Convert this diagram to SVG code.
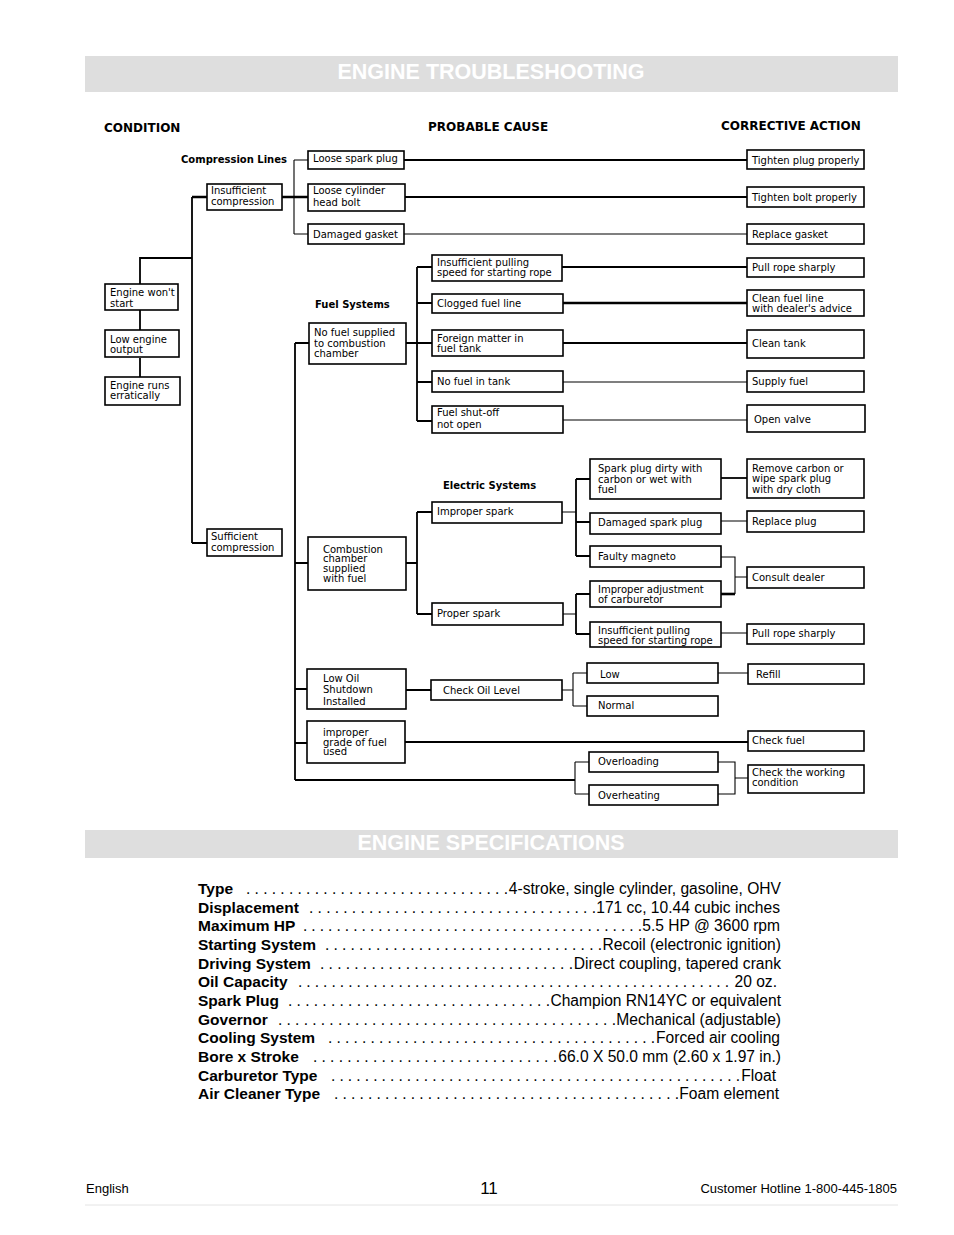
<svg xmlns="http://www.w3.org/2000/svg" width="954" height="1235" viewBox="0 0 954 1235">
<style>
.b{fill:#fff;stroke:#000;stroke-width:1.6}
.t{font-family:"DejaVu Sans",sans-serif;font-size:10px;fill:#000}
.h{font-family:"DejaVu Sans",sans-serif;font-size:12px;font-weight:bold;fill:#000}
.lb{font-family:"DejaVu Sans",sans-serif;font-size:10px;font-weight:bold;fill:#000}
.c1{stroke:#000;stroke-width:1.1;fill:none}
.c2{stroke:#000;stroke-width:1.8;fill:none}
.c3{stroke:#000;stroke-width:2.6;fill:none}
.bar{fill:#dedede}
.bt{font-family:"Liberation Sans",Arial,sans-serif;font-size:21.5px;font-weight:bold;fill:#fff}
.sl{font-family:"Liberation Sans",Arial,sans-serif;font-size:15.5px;font-weight:bold;fill:#000}
.sv{font-family:"Liberation Sans",Arial,sans-serif;font-size:15.6px;fill:#000}
.ft{font-family:"Liberation Sans",Arial,sans-serif;font-size:13px;fill:#000}
</style>
<rect width="954" height="1235" fill="#fff"/>

<g id="header-troubleshooting">
<rect class="bar" x="85" y="56" width="813" height="36"/>
<text class="bt" x="491" y="79" text-anchor="middle">ENGINE TROUBLESHOOTING</text>
</g>

<g id="column-headers">
<text class="h" x="104" y="132">CONDITION</text>
<text class="h" x="428" y="131">PROBABLE CAUSE</text>
<text class="h" x="721" y="130">CORRECTIVE ACTION</text>
<text class="lb" x="181" y="163">Compression Lines</text>
<text class="lb" x="315" y="308">Fuel Systems</text>
<text class="lb" x="443" y="489">Electric Systems</text>
</g>

<g id="connectors">
<path class="c2" d="M140 284V258H192M140 310V330M140 358V377M192 197V543M192 543H207"/>
<path class="c3" d="M192 197H207M282 197H308"/>
<path class="c1" d="M294 160V234M294 160H308M294 234H308"/>
<path class="c2" d="M404 160H747M405 197H747"/>
<path class="c1" d="M404 234H747"/>
<path class="c2" d="M295 343V780M295 343H309M406 343H417M417 267V421M417 267H432M417 303H432M417 343H432M417 382H432M417 421H432"/>
<path class="c2" d="M562 267H747M563 343H747"/>
<path class="c3" d="M562 303H747"/>
<path class="c1" d="M563 382H747M563 420H747"/>
<path class="c2" d="M295 563H308M406 563H417M417 512V614M417 512H432M417 614H432"/>
<path class="c1" d="M562 512H576M563 614H576"/>
<path class="c2" d="M576 479V556M576 479H590M576 522H590M576 556H590M576 594V634M576 594H590M576 634H590"/>
<path class="c2" d="M721 478H747"/>
<path class="c1" d="M721 521H747M721 557H735V594M735 577H747M721 633H747"/>
<path class="c3" d="M721 594H735"/>
<path class="c2" d="M295 689H307M406 690H431"/>
<path class="c1" d="M562 690H573M573 673V706M573 673H587M573 706H587M718 673H748"/>
<path class="c2" d="M295 743H307M405 742H748M295 780H575"/>
<path class="c1" d="M575 762V794M575 762H589M575 794H589M718 762H735V794H718M735 778H748"/>
</g>

<g id="n-engine-wont-start"><rect class="b" x="105" y="284" width="73" height="26"/><text class="t" x="110" y="296">Engine won't</text><text class="t" x="110" y="307">start</text></g>
<g id="n-low-engine-output"><rect class="b" x="105" y="330" width="74" height="27"/><text class="t" x="110" y="342.5">Low engine</text><text class="t" x="110" y="352.5">output</text></g>
<g id="n-engine-runs-erratically"><rect class="b" x="105" y="377" width="75" height="28"/><text class="t" x="110" y="388.5">Engine runs</text><text class="t" x="110" y="398.5">erratically</text></g>

<g id="n-insufficient-compression"><rect class="b" x="207" y="184" width="75" height="26"/><text class="t" x="211" y="194">Insufficient</text><text class="t" x="211" y="205">compression</text></g>
<g id="n-sufficient-compression"><rect class="b" x="207" y="529" width="75" height="27"/><text class="t" x="211" y="539.5">Sufficient</text><text class="t" x="211" y="550.5">compression</text></g>

<g id="n-loose-spark-plug"><rect class="b" x="308" y="151" width="96" height="18"/><text class="t" x="313" y="162">Loose spark plug</text></g>
<g id="n-loose-cylinder"><rect class="b" x="308" y="184" width="97" height="27"/><text class="t" x="313" y="194">Loose cylinder</text><text class="t" x="313" y="205.5">head bolt</text></g>
<g id="n-damaged-gasket"><rect class="b" x="308" y="224" width="96" height="20"/><text class="t" x="313" y="237.5">Damaged gasket</text></g>

<g id="n-no-fuel-supplied"><rect class="b" x="309" y="323" width="97" height="41"/><text class="t" x="314" y="336">No fuel supplied</text><text class="t" x="314" y="346.5">to combustion</text><text class="t" x="314" y="357">chamber</text></g>
<g id="n-combustion-supplied"><rect class="b" x="308" y="537" width="98" height="53"/><text class="t" x="323" y="552.5">Combustion</text><text class="t" x="323" y="562">chamber</text><text class="t" x="323" y="572">supplied</text><text class="t" x="323" y="582">with fuel</text></g>
<g id="n-low-oil-shutdown"><rect class="b" x="307" y="669" width="99" height="40"/><text class="t" x="323" y="681.5">Low Oil</text><text class="t" x="323" y="693">Shutdown</text><text class="t" x="323" y="704.5">Installed</text></g>
<g id="n-improper-grade"><rect class="b" x="307" y="721" width="98" height="42"/><text class="t" x="323" y="736">improper</text><text class="t" x="323" y="745.5">grade of fuel</text><text class="t" x="323" y="755">used</text></g>

<g id="n-insufficient-pulling-1"><rect class="b" x="432" y="255" width="130" height="26"/><text class="t" x="437" y="266">Insufficient pulling</text><text class="t" x="437" y="276">speed for starting rope</text></g>
<g id="n-clogged-fuel-line"><rect class="b" x="432" y="294" width="131" height="19"/><text class="t" x="437" y="306.5">Clogged fuel line</text></g>
<g id="n-foreign-matter"><rect class="b" x="432" y="330" width="131" height="26"/><text class="t" x="437" y="342">Foreign matter in</text><text class="t" x="437" y="352">fuel tank</text></g>
<g id="n-no-fuel-in-tank"><rect class="b" x="432" y="371" width="131" height="21"/><text class="t" x="437" y="385">No fuel in tank</text></g>
<g id="n-fuel-shutoff"><rect class="b" x="432" y="406" width="131" height="27"/><text class="t" x="437" y="416">Fuel shut-off</text><text class="t" x="437" y="428">not open</text></g>
<g id="n-improper-spark"><rect class="b" x="432" y="502" width="130" height="21"/><text class="t" x="437" y="515">Improper spark</text></g>
<g id="n-proper-spark"><rect class="b" x="432" y="603" width="131" height="22"/><text class="t" x="437" y="617">Proper spark</text></g>
<g id="n-check-oil-level"><rect class="b" x="431" y="680" width="131" height="20"/><text class="t" x="443" y="694">Check Oil Level</text></g>

<g id="n-spark-plug-dirty"><rect class="b" x="590" y="459" width="131" height="40"/><text class="t" x="598" y="472">Spark plug dirty with</text><text class="t" x="598" y="482.5">carbon or wet with</text><text class="t" x="598" y="492.5">fuel</text></g>
<g id="n-damaged-spark-plug"><rect class="b" x="590" y="513" width="131" height="21"/><text class="t" x="598" y="526">Damaged spark plug</text></g>
<g id="n-faulty-magneto"><rect class="b" x="590" y="546" width="131" height="21"/><text class="t" x="598" y="559.5">Faulty magneto</text></g>
<g id="n-improper-adjustment"><rect class="b" x="590" y="581" width="131" height="26"/><text class="t" x="598" y="592.5">Improper adjustment</text><text class="t" x="598" y="603">of carburetor</text></g>
<g id="n-insufficient-pulling-2"><rect class="b" x="590" y="622" width="131" height="25"/><text class="t" x="598" y="634">Insufficient pulling</text><text class="t" x="598" y="644">speed for starting rope</text></g>
<g id="n-low"><rect class="b" x="587" y="663" width="131" height="20"/><text class="t" x="600" y="677.5">Low</text></g>
<g id="n-normal"><rect class="b" x="587" y="696" width="131" height="20"/><text class="t" x="598" y="709">Normal</text></g>
<g id="n-overloading"><rect class="b" x="589" y="752" width="129" height="20"/><text class="t" x="598" y="765">Overloading</text></g>
<g id="n-overheating"><rect class="b" x="589" y="785" width="129" height="20"/><text class="t" x="598" y="799">Overheating</text></g>

<g id="n-tighten-plug"><rect class="b" x="747" y="150" width="117" height="19"/><text class="t" x="752" y="163.5">Tighten plug properly</text></g>
<g id="n-tighten-bolt"><rect class="b" x="747" y="187" width="117" height="20"/><text class="t" x="752" y="200.5">Tighten bolt properly</text></g>
<g id="n-replace-gasket"><rect class="b" x="747" y="224" width="117" height="20"/><text class="t" x="752" y="238">Replace gasket</text></g>
<g id="n-pull-rope-1"><rect class="b" x="747" y="258" width="117" height="19"/><text class="t" x="752" y="271">Pull rope sharply</text></g>
<g id="n-clean-fuel-line"><rect class="b" x="747" y="290" width="117" height="26"/><text class="t" x="752" y="302">Clean fuel line</text><text class="t" x="752" y="312">with dealer's advice</text></g>
<g id="n-clean-tank"><rect class="b" x="747" y="330" width="117" height="28"/><text class="t" x="752" y="347">Clean tank</text></g>
<g id="n-supply-fuel"><rect class="b" x="747" y="371" width="117" height="21"/><text class="t" x="752" y="385">Supply fuel</text></g>
<g id="n-open-valve"><rect class="b" x="747" y="405" width="118" height="27"/><text class="t" x="754" y="423">Open valve</text></g>
<g id="n-remove-carbon"><rect class="b" x="747" y="459" width="117" height="39"/><text class="t" x="752" y="471.5">Remove carbon or</text><text class="t" x="752" y="482">wipe spark plug</text><text class="t" x="752" y="492.5">with dry cloth</text></g>
<g id="n-replace-plug"><rect class="b" x="747" y="511" width="117" height="21"/><text class="t" x="752" y="524.5">Replace plug</text></g>
<g id="n-consult-dealer"><rect class="b" x="747" y="567" width="117" height="21"/><text class="t" x="752" y="580.5">Consult dealer</text></g>
<g id="n-pull-rope-2"><rect class="b" x="747" y="624" width="117" height="20"/><text class="t" x="752" y="637">Pull rope sharply</text></g>
<g id="n-refill"><rect class="b" x="748" y="664" width="116" height="20"/><text class="t" x="756" y="677.5">Refill</text></g>
<g id="n-check-fuel"><rect class="b" x="748" y="731" width="116" height="20"/><text class="t" x="752" y="744">Check fuel</text></g>
<g id="n-check-working"><rect class="b" x="748" y="765" width="116" height="28"/><text class="t" x="752" y="776">Check the working</text><text class="t" x="752" y="786">condition</text></g>

<g id="header-specifications">
<rect class="bar" x="85" y="830" width="813" height="28"/>
<text class="bt" x="491" y="850" text-anchor="middle">ENGINE SPECIFICATIONS</text>
</g>

<g id="specifications">
<text class="sl" x="198" y="894">Type</text>
<text class="sv" x="246" y="894" textLength="262" lengthAdjust="spacing">. . . . . . . . . . . . . . . . . . . . . . . . . . . . . . .</text>
<text class="sv" x="781" y="894" text-anchor="end">4-stroke, single cylinder, gasoline, OHV</text>

<text class="sl" x="198" y="913">Displacement</text>
<text class="sv" x="309" y="913" textLength="287" lengthAdjust="spacing">. . . . . . . . . . . . . . . . . . . . . . . . . . . . . . . . . .</text>
<text class="sv" x="780" y="913" text-anchor="end">171 cc, 10.44 cubic inches</text>

<text class="sl" x="198" y="931">Maximum HP</text>
<text class="sv" x="303" y="931" textLength="339" lengthAdjust="spacing">. . . . . . . . . . . . . . . . . . . . . . . . . . . . . . . . . . . . . . . . .</text>
<text class="sv" x="780" y="931" text-anchor="end">5.5 HP @ 3600 rpm</text>

<text class="sl" x="198" y="950">Starting System</text>
<text class="sv" x="325" y="950" textLength="277" lengthAdjust="spacing">. . . . . . . . . . . . . . . . . . . . . . . . . . . . . . . . .</text>
<text class="sv" x="781" y="950" text-anchor="end">Recoil (electronic ignition)</text>

<text class="sl" x="198" y="969">Driving System</text>
<text class="sv" x="320" y="969" textLength="253" lengthAdjust="spacing">. . . . . . . . . . . . . . . . . . . . . . . . . . . . . .</text>
<text class="sv" x="781" y="969" text-anchor="end">Direct coupling, tapered crank</text>

<text class="sl" x="198" y="987">Oil Capacity</text>
<text class="sv" x="298" y="987" textLength="431" lengthAdjust="spacing">. . . . . . . . . . . . . . . . . . . . . . . . . . . . . . . . . . . . . . . . . . . . . . . . . . . .</text>
<text class="sv" x="777" y="987" text-anchor="end">20 oz.</text>

<text class="sl" x="198" y="1006">Spark Plug</text>
<text class="sv" x="288" y="1006" textLength="262" lengthAdjust="spacing">. . . . . . . . . . . . . . . . . . . . . . . . . . . . . . .</text>
<text class="sv" x="781" y="1006" text-anchor="end">Champion RN14YC or equivalent</text>

<text class="sl" x="198" y="1025">Governor</text>
<text class="sv" x="278" y="1025" textLength="338" lengthAdjust="spacing">. . . . . . . . . . . . . . . . . . . . . . . . . . . . . . . . . . . . . . . .</text>
<text class="sv" x="781" y="1025" text-anchor="end">Mechanical (adjustable)</text>

<text class="sl" x="198" y="1043">Cooling System</text>
<text class="sv" x="328" y="1043" textLength="327" lengthAdjust="spacing">. . . . . . . . . . . . . . . . . . . . . . . . . . . . . . . . . . . . . . .</text>
<text class="sv" x="780" y="1043" text-anchor="end">Forced air cooling</text>

<text class="sl" x="198" y="1062">Bore x Stroke</text>
<text class="sv" x="313" y="1062" textLength="244" lengthAdjust="spacing">. . . . . . . . . . . . . . . . . . . . . . . . . . . . .</text>
<text class="sv" x="781" y="1062" text-anchor="end">66.0 X 50.0 mm (2.60 x 1.97 in.)</text>

<text class="sl" x="198" y="1081">Carburetor Type</text>
<text class="sv" x="331" y="1081" textLength="409" lengthAdjust="spacing">. . . . . . . . . . . . . . . . . . . . . . . . . . . . . . . . . . . . . . . . . . . . . . . . .</text>
<text class="sv" x="776" y="1081" text-anchor="end">Float</text>

<text class="sl" x="198" y="1099">Air Cleaner Type</text>
<text class="sv" x="334" y="1099" textLength="345" lengthAdjust="spacing">. . . . . . . . . . . . . . . . . . . . . . . . . . . . . . . . . . . . . . . . .</text>
<text class="sv" x="779" y="1099" text-anchor="end">Foam element</text>
</g>

<g id="footer">
<text class="ft" x="86" y="1193">English</text>
<text class="ft" x="489" y="1194" text-anchor="middle" style="font-size:17px">11</text>
<text class="ft" x="897" y="1193" text-anchor="end">Customer Hotline 1-800-445-1805</text>
<line x1="85" y1="1205" x2="898" y2="1205" stroke="#e4e4e4" stroke-width="1"/>
</g>
</svg>
